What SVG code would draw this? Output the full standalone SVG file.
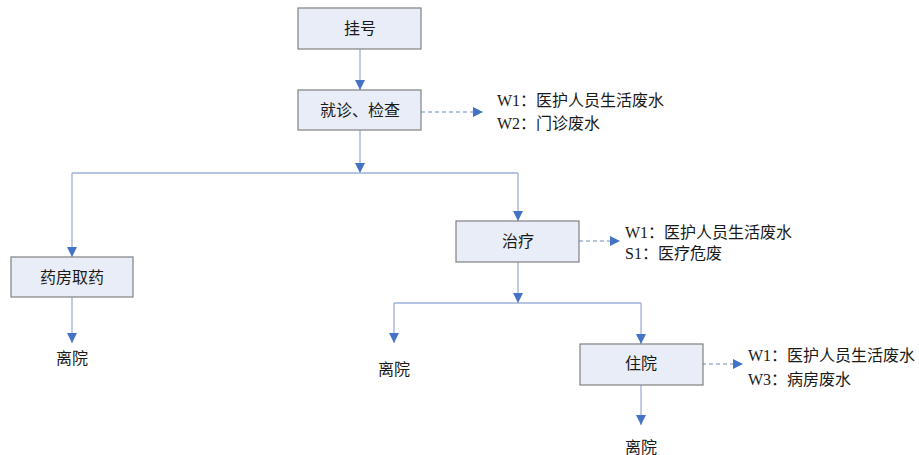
<svg xmlns="http://www.w3.org/2000/svg" width="919" height="455" viewBox="0 0 919 455">
<defs>
<style>
.box{fill:#E8EDF7;stroke:#808080;stroke-width:1.2}
.lbl{font-family:"Liberation Serif","Noto Sans CJK SC",serif;font-size:16px;fill:#1a1a1a}
.c{text-anchor:middle}
.ln{fill:none;stroke:#9DB1D6;stroke-width:1.3}
.dash{stroke-dasharray:4,3}
</style>
<marker id="ah" viewBox="0 0 10 10" refX="10" refY="5" markerWidth="10" markerHeight="10" markerUnits="userSpaceOnUse" orient="auto">
<path d="M0,0 L10,5 L0,10 Z" fill="#4472C4"/>
</marker>
</defs>
<rect width="919" height="455" fill="#fff"/>
<g id="connectors">
<path class="ln" d="M360,49 V90" marker-end="url(#ah)"/>
<path class="ln" d="M360,130 V173" marker-end="url(#ah)"/>
<path class="ln" d="M72,173 H518"/>
<path class="ln" d="M72,173 V257" marker-end="url(#ah)"/>
<path class="ln" d="M518,173 V221" marker-end="url(#ah)"/>
<path class="ln dash" d="M421,112 H483" marker-end="url(#ah)"/>
<path class="ln" d="M72,297 V343" marker-end="url(#ah)"/>
<path class="ln" d="M518,262 V303" marker-end="url(#ah)"/>
<path class="ln" d="M394,303 H641"/>
<path class="ln" d="M394,303 V343" marker-end="url(#ah)"/>
<path class="ln" d="M641,303 V344" marker-end="url(#ah)"/>
<path class="ln dash" d="M702,364 H743" marker-end="url(#ah)"/>
<path class="ln dash" d="M579,241 H620" marker-end="url(#ah)"/>
<path class="ln" d="M641,385 V425" marker-end="url(#ah)"/>
</g>
<g id="guahao">
<rect class="box" x="298" y="8" width="123" height="41"/>
<text class="lbl c" x="360" y="34">挂号</text>
</g>
<g id="jiuzhen">
<rect class="box" x="298" y="90" width="123" height="40"/>
<text class="lbl c" x="360" y="116">就诊、检查</text>
</g>
<g id="jiuzhen-out">
<text class="lbl" x="497" y="106">W1：医护人员生活废水</text>
<text class="lbl" x="497" y="129">W2：门诊废水</text>
</g>
<g id="yaofang">
<rect class="box" x="11" y="257" width="122" height="40"/>
<text class="lbl c" x="72" y="283">药房取药</text>
</g>
<g id="liyuan1">
<text class="lbl c" x="72" y="364">离院</text>
</g>
<g id="zhiliao">
<rect class="box" x="456" y="221" width="123" height="41"/>
<text class="lbl c" x="518" y="247">治疗</text>
</g>
<g id="zhiliao-out">
<text class="lbl" x="625" y="238">W1：医护人员生活废水</text>
<text class="lbl" x="625" y="259">S1：医疗危废</text>
</g>
<g id="liyuan2">
<text class="lbl c" x="394" y="375">离院</text>
</g>
<g id="zhuyuan">
<rect class="box" x="580" y="344" width="123" height="41"/>
<text class="lbl c" x="641" y="369">住院</text>
</g>
<g id="zhuyuan-out">
<text class="lbl" x="748" y="361">W1：医护人员生活废水</text>
<text class="lbl" x="748" y="385">W3：病房废水</text>
</g>
<g id="liyuan3">
<text class="lbl c" x="641" y="453">离院</text>
</g>
</svg>
